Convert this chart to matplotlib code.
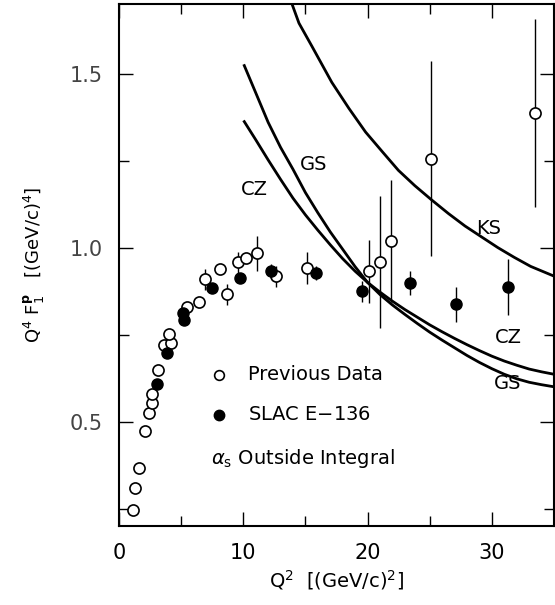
import numpy as np
import matplotlib
matplotlib.use("Agg")
import matplotlib.pyplot as plt
from matplotlib.ticker import MultipleLocator

# previous data (open circles)
prev_q2 = [1.12, 1.28, 1.6, 2.08, 2.4, 2.64, 2.64, 3.12, 3.6, 4.16, 4.0, 5.44, 6.4,
           6.96, 8.16, 8.72, 9.6, 10.24, 11.1, 12.64, 15.12, 20.08, 20.96, 21.92,
           25.12, 33.44]
prev_f = [0.246, 0.310, 0.367, 0.474, 0.526, 0.552, 0.578, 0.647, 0.719, 0.725, 0.751,
          0.829, 0.843, 0.909, 0.938, 0.866, 0.958, 0.970, 0.984, 0.918, 0.941, 0.932,
          0.958, 1.019, 1.255, 1.388]
prev_err = [0, 0, 0, 0, 0, 0, 0, 0, 0, 0, 0, 0, 0,
            0.03, 0, 0.03, 0.03, 0, 0.05, 0.03, 0.045, 0.09,
            0.19, 0.175, 0.28, 0.27]

# SLAC E-136 (filled circles)
slac_q2 = [3.04, 3.84, 5.12, 5.2, 7.52, 9.76, 12.24, 15.84, 19.52, 23.44, 27.12, 31.28]
slac_f = [0.607, 0.696, 0.811, 0.791, 0.883, 0.912, 0.932, 0.927, 0.875, 0.898, 0.837, 0.886]
slac_err = [0, 0, 0, 0, 0, 0, 0.02, 0.02, 0.03, 0.035, 0.05, 0.08]

# theory curves
ks_q2 = [13.92, 14.48, 15.5, 17.12, 18.5, 19.84, 21.2, 22.48, 23.8, 25.12, 26.5,
         27.84, 29.2, 30.48, 31.8, 33.12, 35.0]
ks_f = [1.70, 1.645, 1.58, 1.475, 1.40, 1.332, 1.275, 1.222, 1.178, 1.138, 1.098,
        1.062, 1.030, 1.000, 0.972, 0.946, 0.918]

cz_q2 = [10.08, 11, 12, 13, 14, 15, 16, 17, 18, 19, 20, 21, 22, 23, 24, 25, 26, 27,
         28, 29, 30, 31, 32, 33, 34, 35]
cz_f = [1.362, 1.310, 1.252, 1.196, 1.142, 1.094, 1.050, 1.008, 0.968, 0.932, 0.900,
        0.872, 0.846, 0.822, 0.800, 0.778, 0.758, 0.739, 0.721, 0.704, 0.688, 0.674,
        0.662, 0.651, 0.643, 0.636]

gs_q2 = [10.08, 11, 12, 13, 14, 15, 16, 17, 18, 19, 20, 21, 22, 23, 24, 25, 26, 27,
         28, 29, 30, 31, 32, 33, 34, 35]
gs_f = [1.523, 1.445, 1.360, 1.288, 1.225, 1.158, 1.100, 1.045, 0.995, 0.945, 0.900,
        0.865, 0.835, 0.808, 0.782, 0.757, 0.734, 0.712, 0.690, 0.670, 0.652, 0.636,
        0.623, 0.613, 0.606, 0.600]

fig = plt.figure(figsize=(5.55, 6.05), dpi=100)
ax = fig.add_axes([0.2144, 0.1306, 0.7838, 0.8628])

for xs, ys in [(ks_q2, ks_f), (cz_q2, cz_f), (gs_q2, gs_f)]:
    ax.plot(xs, ys, color='black', lw=2.0, zorder=2, solid_joinstyle='round')

ax.errorbar(prev_q2, prev_f, yerr=prev_err, fmt='o', ms=8, mfc='white', mec='black',
            mew=1.2, ecolor='black', elinewidth=1.0, capsize=0, zorder=3)
ax.errorbar(slac_q2, slac_f, yerr=slac_err, fmt='o', ms=8, mfc='black', mec='black',
            ecolor='black', elinewidth=1.0, capsize=0, zorder=4)

fs = 14
ax.text(29.7, 1.056, 'KS', fontsize=fs, ha='center', va='center')
ax.text(10.9, 1.166, 'CZ', fontsize=fs, ha='center', va='center')
ax.text(15.7, 1.238, 'GS', fontsize=fs, ha='center', va='center')
ax.text(31.3, 0.742, 'CZ', fontsize=fs, ha='center', va='center')
ax.text(31.3, 0.610, 'GS', fontsize=fs, ha='center', va='center')

# legend block drawn as text
ax.plot([8.08], [0.635], 'o', ms=7, mfc='white', mec='black', mew=1.2)
ax.plot([8.08], [0.520], 'o', ms=7.5, mfc='black', mec='black')
ax.text(10.4, 0.635, 'Previous Data', fontsize=fs, va='center')
ax.text(10.4, 0.520, 'SLAC E$-$136', fontsize=fs, va='center')
ax.text(7.4, 0.395, r'$\alpha_\mathrm{s}$ Outside Integral', fontsize=fs, va='center')

ax.set_xlim(0, 35)
ax.set_ylim(0.2, 1.7)
ax.xaxis.set_major_locator(MultipleLocator(10))
ax.xaxis.set_minor_locator(MultipleLocator(5))
ax.yaxis.set_minor_locator(MultipleLocator(0.25))
ax.tick_params(which='both', direction='in', top=True, right=True, width=1.0)
ax.tick_params(which='major', length=10, pad=12, labelsize=15)
ax.tick_params(which='minor', length=7)
ax.set_yticks([0.5, 1.0, 1.5])
ax.set_yticklabels(['0.5', '1.0', '1.5'], color='#444444')
for s in ax.spines.values():
    s.set_linewidth(1.5)

ax.set_xlabel(r'Q$^2$  [(GeV/c)$^2$]', fontsize=14, labelpad=4)
ax.set_ylabel(r'Q$^4$ F$_1^{\mathbf{p}}$   [(GeV/c)$^4$]', fontsize=13, labelpad=16)

fig.savefig('out.png', dpi=100)
